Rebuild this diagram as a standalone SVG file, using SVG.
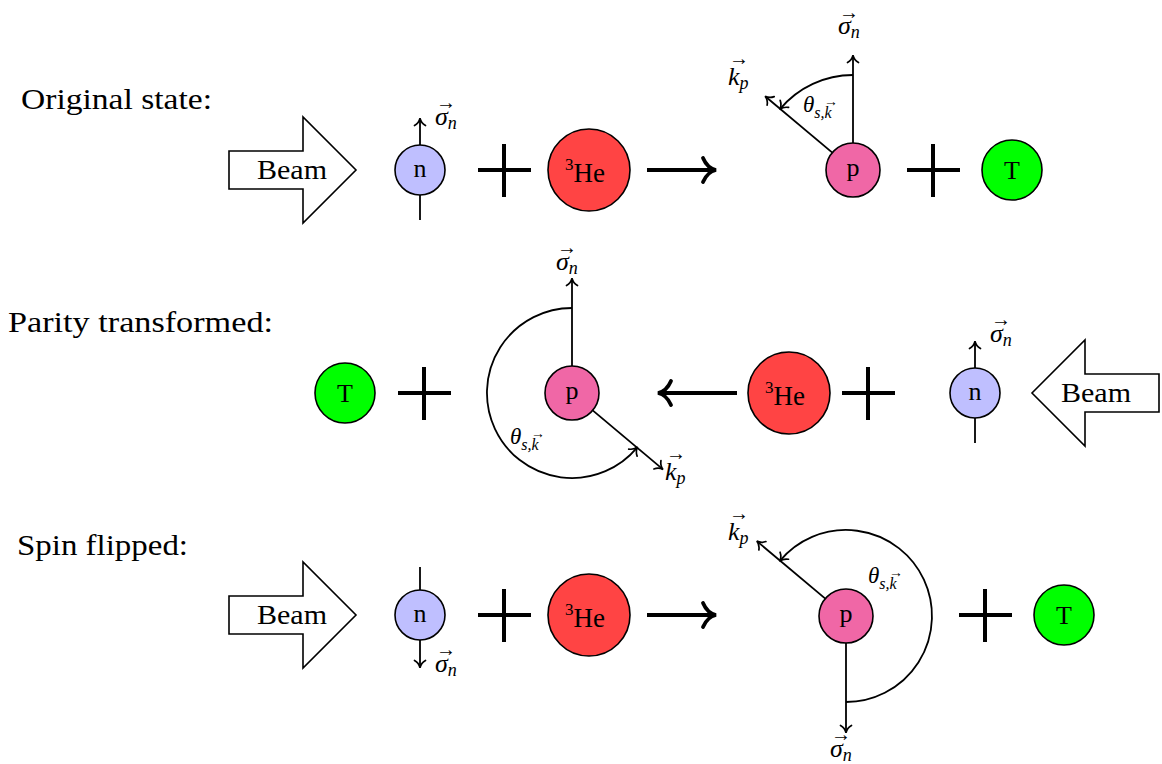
<svg xmlns="http://www.w3.org/2000/svg" width="1162" height="764" viewBox="0 0 1162 764">
<style>
text{font-family:"Liberation Serif","DejaVu Serif",serif;fill:#000}
.lab{font-size:29px}
.beam{font-size:27px;text-anchor:middle}
.nt{font-size:26px;text-anchor:middle}
.mi{font-size:26px;font-style:italic}
.sub{font-size:18px;font-style:italic}
.acc{font-size:20px;font-style:normal}
.th{font-size:23px;font-style:italic}
.ths{font-size:16px;font-style:italic}
.acs{font-size:14px;font-style:normal}
.n{fill:#bfbfff;stroke:#000;stroke-width:1.6}
.p{fill:#f067a6;stroke:#000;stroke-width:1.6}
.he{fill:#ff4444;stroke:#000;stroke-width:1.6}
.t{fill:#00ff00;stroke:#000;stroke-width:1.6}
.bm{fill:#fff;stroke:#000;stroke-width:1.6;stroke-linejoin:miter}
.ln{fill:none;stroke:#000;stroke-width:1.8}
.pl{fill:none;stroke:#000;stroke-width:4}
.big{fill:none;stroke:#000;stroke-width:4}
</style>
<defs>
<marker id="ah" viewBox="-9 -8 12 16" markerWidth="12" markerHeight="16" refX="0" refY="0" orient="auto" markerUnits="userSpaceOnUse">
<path d="M-6.5 -5.5 C-4.5 -2 -1.5 -0.5 0.8 0 C-1.5 0.5 -4.5 2 -6.5 5.5" fill="none" stroke="#000" stroke-width="1.7" stroke-linecap="round"/>
</marker>
<marker id="bh" viewBox="-16 -16 20 32" markerWidth="20" markerHeight="32" refX="0" refY="0" orient="auto" markerUnits="userSpaceOnUse">
<path d="M-12 -12 C-9 -5 -4 -1 1 0 C-4 1 -9 5 -12 12" fill="none" stroke="#000" stroke-width="3.8" stroke-linecap="round"/>
</marker>
</defs>

<!-- Row labels -->
<text id="lbl-original" class="lab" x="21" y="109" textLength="191" lengthAdjust="spacingAndGlyphs">Original state:</text>
<text id="lbl-parity" class="lab" x="8" y="332" textLength="265" lengthAdjust="spacingAndGlyphs">Parity transformed:</text>
<text id="lbl-spin" class="lab" x="17" y="555" textLength="171" lengthAdjust="spacingAndGlyphs">Spin flipped:</text>

<!-- ===== Row 1 ===== -->
<g id="beam1">
<path class="bm" d="M229 151 H303 V117 L356 170 L303 223 V189 H229 Z"/>
<text class="beam" x="292" y="179" textLength="70" lengthAdjust="spacingAndGlyphs">Beam</text>
</g>
<g id="n1">
<circle class="n" cx="420" cy="170" r="25"/>
<text class="nt" x="420" y="177">n</text>
</g>
<g id="plus1a"><path class="pl" d="M478 170 H531 M504 144 V197"/></g>
<g id="he1">
<circle class="he" cx="589" cy="170" r="41"/>
<text x="565" y="182" style="font-size:27px"><tspan style="font-size:17px" dy="-12">3</tspan><tspan dy="12">He</tspan></text>
</g>
<g id="p1">
<circle class="p" cx="853" cy="170" r="27"/>
<text class="nt" x="853" y="176">p</text>
</g>
<g id="plus1b"><path class="pl" d="M907 170 H960 M933 144 V197"/></g>
<g id="t1">
<circle class="t" cx="1012" cy="170" r="30"/>
<text class="nt" x="1012" y="179">T</text>
</g>

<!-- ===== Row 2 ===== -->
<g id="t2">
<circle class="t" cx="345" cy="393" r="30"/>
<text class="nt" x="345" y="402">T</text>
</g>
<g id="plus2a"><path class="pl" d="M398 393 H451 M424 367 V420"/></g>
<g id="p2">
<circle class="p" cx="572" cy="393" r="27"/>
<text class="nt" x="572" y="399">p</text>
</g>
<g id="he2">
<circle class="he" cx="789" cy="393" r="41"/>
<text x="765" y="405" style="font-size:27px"><tspan style="font-size:17px" dy="-12">3</tspan><tspan dy="12">He</tspan></text>
</g>
<g id="plus2b"><path class="pl" d="M842 393 H895 M868 367 V420"/></g>
<g id="n2">
<circle class="n" cx="975" cy="393" r="25"/>
<text class="nt" x="975" y="400">n</text>
</g>
<g id="beam2">
<path class="bm" d="M1159 374 H1085 V340 L1032 393 L1085 446 V412 H1159 Z"/>
<text class="beam" x="1096" y="402" textLength="70" lengthAdjust="spacingAndGlyphs">Beam</text>
</g>

<!-- ===== Row 3 ===== -->
<g id="beam3">
<path class="bm" d="M229 596 H303 V562 L356 615 L303 668 V634 H229 Z"/>
<text class="beam" x="292" y="624" textLength="70" lengthAdjust="spacingAndGlyphs">Beam</text>
</g>
<g id="n3">
<circle class="n" cx="420" cy="615" r="25"/>
<text class="nt" x="420" y="622">n</text>
</g>
<g id="plus3a"><path class="pl" d="M478 615 H531 M504 589 V642"/></g>
<g id="he3">
<circle class="he" cx="589" cy="615" r="41"/>
<text x="565" y="627" style="font-size:27px"><tspan style="font-size:17px" dy="-12">3</tspan><tspan dy="12">He</tspan></text>
</g>
<g id="p3">
<circle class="p" cx="846" cy="616" r="27"/>
<text class="nt" x="846" y="622">p</text>
</g>
<g id="plus3b"><path class="pl" d="M959 615 H1012 M985 589 V642"/></g>
<g id="t3">
<circle class="t" cx="1064" cy="615" r="30"/>
<text class="nt" x="1064" y="624">T</text>
</g>

<!-- ===== Connectors ===== -->
<g id="connectors">
<line class="ln" x1="420" y1="145" x2="420" y2="119" marker-end="url(#ah)"/>
<line class="ln" x1="420" y1="195" x2="420" y2="220"/>
<line class="big" x1="647" y1="170" x2="715" y2="170" marker-end="url(#bh)"/>
<line class="ln" x1="853" y1="143" x2="853" y2="56" marker-end="url(#ah)"/>
<line class="ln" x1="832.3" y1="152.6" x2="765.7" y2="96.7" marker-end="url(#ah)"/>
<path class="ln" d="M853 75 A95 95 0 0 0 780.2 108.9" marker-end="url(#ah)"/>
<line class="ln" x1="572" y1="366" x2="572" y2="279" marker-end="url(#ah)"/>
<line class="ln" x1="592.7" y1="410.4" x2="662.4" y2="468.9" marker-end="url(#ah)"/>
<path class="ln" d="M572 308 A85 85 0 1 0 637.1 447.6" marker-end="url(#ah)"/>
<line class="big" x1="737" y1="393" x2="659" y2="393" marker-end="url(#bh)"/>
<line class="ln" x1="975" y1="368" x2="975" y2="342" marker-end="url(#ah)"/>
<line class="ln" x1="975" y1="418" x2="975" y2="443"/>
<line class="ln" x1="420" y1="590" x2="420" y2="567"/>
<line class="ln" x1="420" y1="640" x2="420" y2="667" marker-end="url(#ah)"/>
<line class="big" x1="647" y1="615" x2="715" y2="615" marker-end="url(#bh)"/>
<line class="ln" x1="846" y1="643" x2="846" y2="732" marker-end="url(#ah)"/>
<line class="ln" x1="825.3" y1="598.6" x2="757.4" y2="541.6" marker-end="url(#ah)"/>
<path class="ln" d="M846 702 A86 86 0 1 0 780.1 560.7" marker-end="url(#ah)"/>
</g>

<!-- ===== Math labels ===== -->
<g id="labels">
<text class="mi" x="435" y="125">σ<tspan class="sub" dy="4">n</tspan><tspan class="acc" x="436" y="109">→</tspan></text>
<text class="mi" x="838" y="34">σ<tspan class="sub" dy="4">n</tspan><tspan class="acc" x="839" y="19">→</tspan></text>
<text class="mi" x="728" y="85">k<tspan class="sub" dy="4">p</tspan><tspan class="acc" x="729" y="65">→</tspan></text>
<text class="th" x="803" y="112">θ<tspan class="ths" dy="6">s,k</tspan><tspan class="acs" x="824" y="106">→</tspan></text>

<text class="mi" x="556" y="270">σ<tspan class="sub" dy="4">n</tspan><tspan class="acc" x="557" y="254">→</tspan></text>
<text class="mi" x="665" y="480">k<tspan class="sub" dy="4">p</tspan><tspan class="acc" x="666" y="460">→</tspan></text>
<text class="th" x="510" y="444">θ<tspan class="ths" dy="6">s,k</tspan><tspan class="acs" x="531" y="438">→</tspan></text>
<text class="mi" x="990" y="342">σ<tspan class="sub" dy="4">n</tspan><tspan class="acc" x="991" y="326">→</tspan></text>

<text class="mi" x="435" y="672">σ<tspan class="sub" dy="4">n</tspan><tspan class="acc" x="436" y="656">→</tspan></text>
<text class="mi" x="728" y="540">k<tspan class="sub" dy="4">p</tspan><tspan class="acc" x="729" y="520">→</tspan></text>
<text class="th" x="868" y="583">θ<tspan class="ths" dy="6">s,k</tspan><tspan class="acs" x="889" y="577">→</tspan></text>
<text class="mi" x="830" y="757">σ<tspan class="sub" dy="4">n</tspan><tspan class="acc" x="831" y="741">→</tspan></text>
</g>
</svg>
